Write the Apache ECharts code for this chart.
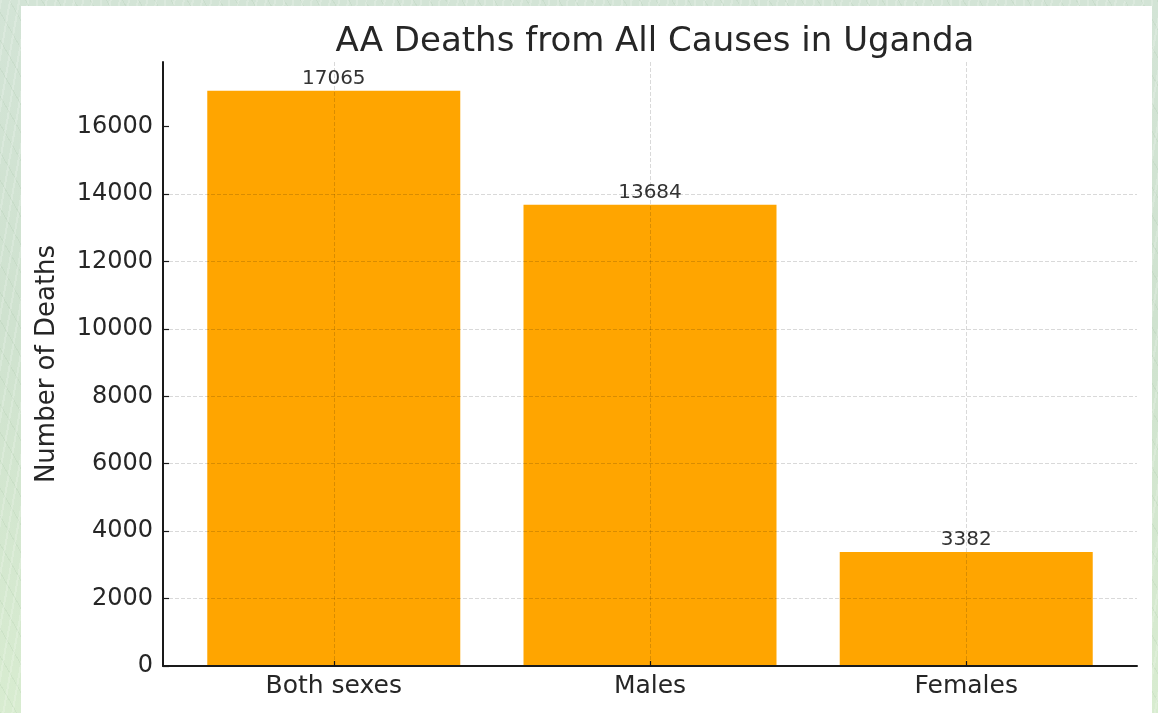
<!DOCTYPE html>
<html>
<head>
<meta charset="utf-8">
<title>AA Deaths from All Causes in Uganda</title>
<script src="https://cdn.jsdelivr.net/npm/echarts@6/dist/echarts.min.js"></script>
<style>
  html, body { margin: 0; padding: 0; width: 1158px; height: 713px; overflow: hidden; }
  body {
    background:
      repeating-linear-gradient(100deg, rgba(255,255,255,0.18) 0 2px, rgba(0,0,0,0) 2px 9px),
      repeating-linear-gradient(60deg, rgba(120,160,120,0.10) 0 1px, rgba(0,0,0,0) 1px 14px),
      linear-gradient(180deg, #d3e4d6 0%, #cfe2cf 45%, #d8ecd0 100%);
  }
  #card { position: absolute; left: 21px; top: 6px; width: 1131px; height: 707px; background: #ffffff; }
  #chart { position: absolute; left: 0; top: 0; width: 1158px; height: 713px; }
</style>
</head>
<body>
<div id="card"></div>
<div id="chart"></div>
<script>
// Deaths by sex
const categories = ['Both sexes', 'Males', 'Females'];
const deaths = [17065, 13684, 3382];
const yTicks = [0, 2000, 4000, 6000, 8000, 10000, 12000, 14000, 16000];

const positions = categories.map((_, i) => i);
const yMax = Math.max(...deaths) * 1.05;
const font = '"DejaVu Sans", "Liberation Sans", sans-serif';
const gridLine = 'rgba(0,0,0,0.15)';
const ink = '#262626';

const chart = echarts.init(document.getElementById('chart'), null, { renderer: 'canvas' });

chart.setOption({
  backgroundColor: 'transparent',
  animation: false,
  title: {
    text: 'AA Deaths from All Causes in Uganda',
    left: 650,
    textAlign: 'center',
    top: 20,
    textStyle: { fontFamily: font, fontSize: 34, fontWeight: 'normal', color: ink }
  },
  grid: { left: 163, right: 21, top: 62, bottom: 47, containLabel: false },
  xAxis: {
    type: 'value',
    min: -0.54,
    max: 2.54,
    z: 3,
    axisLine: { show: true, onZero: false, lineStyle: { color: '#1a1a1a', width: 2 } },
    axisTick: { show: true, inside: true, length: 5, customValues: positions, lineStyle: { color: '#1a1a1a', width: 1.2 } },
    axisLabel: {
      customValues: positions,
      formatter: v => categories[Math.round(v)] || '',
      fontFamily: font, fontSize: 25, color: ink, margin: 8
    },
    splitLine: { show: false }
  },
  yAxis: {
    type: 'value',
    min: 0,
    max: yMax,
    z: 3,
    name: 'Number of Deaths',
    nameLocation: 'middle',
    nameGap: 103,
    nameRotate: 90,
    nameTextStyle: { fontFamily: font, fontSize: 26, color: ink },
    axisLine: { show: true, onZero: false, lineStyle: { color: '#1a1a1a', width: 2 } },
    axisTick: { show: true, inside: true, length: 6, customValues: yTicks, lineStyle: { color: '#1a1a1a', width: 1.2 } },
    axisLabel: {
      customValues: yTicks,
      formatter: v => String(v),
      fontFamily: font, fontSize: 24, color: ink, margin: 10
    },
    splitLine: {
      show: true, showMinLine: false, showMaxLine: false,
      lineStyle: { color: gridLine, type: [4, 2], width: 1 }
    }
  },
  series: [{
    type: 'bar',
    data: deaths.map((v, i) => [positions[i], v]),
    barWidth: 253,
    itemStyle: { color: '#FFA500' },
    label: {
      show: true, position: 'top', distance: 2,
      formatter: p => String(p.value[1]),
      fontFamily: font, fontSize: 20, color: '#333333'
    },
    markLine: {
      silent: true,
      symbol: 'none',
      label: { show: false },
      lineStyle: { color: gridLine, type: [4, 2], width: 1 },
      data: positions.map(p => ({ xAxis: p }))
    }
  }]
});
</script>
</body>
</html>
